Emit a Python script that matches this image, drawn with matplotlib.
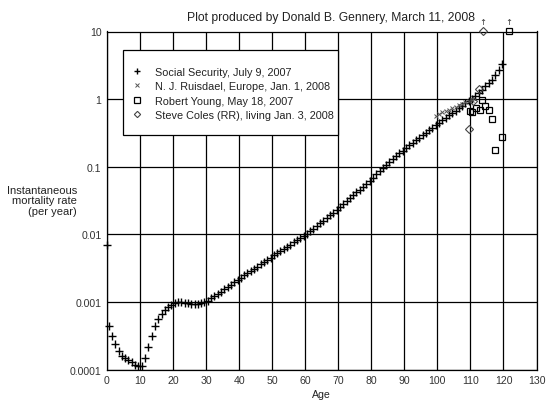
import numpy as np
import matplotlib
matplotlib.use('Agg')
import matplotlib.pyplot as plt
from matplotlib.patches import Rectangle

plt.rcParams['font.family'] = ['Liberation Sans', 'DejaVu Sans']

# Social Security, July 9, 2007 -- age 0 point, then mid-year ages 0.5 .. 119.5
ss_age = np.concatenate([[0.0], np.arange(0.5, 120.0, 1.0)])
ss_rate = [
    0.0069,
    0.00045, 0.00032, 0.00024, 0.00019, 0.00016, 0.00015, 0.00014, 0.00013, 0.000118, 0.000113,
    0.000113, 0.00015, 0.00022, 0.00032, 0.00044, 0.00056, 0.00066, 0.00077, 0.00084, 0.00091,
    0.00096, 0.00100, 0.00100, 0.00098, 0.00096, 0.00095, 0.00094, 0.00094, 0.00096, 0.00099,
    0.00105, 0.00113, 0.00122, 0.00132, 0.00143, 0.00155, 0.00167, 0.00181, 0.00196, 0.00212,
    0.00229, 0.00247, 0.00267, 0.00288, 0.00310, 0.00335, 0.00361, 0.00390, 0.00421, 0.00454,
    0.00490, 0.00527, 0.00568, 0.00611, 0.00658, 0.00708, 0.00762, 0.00820, 0.00883, 0.00951,
    0.0102, 0.0112, 0.0122, 0.0134, 0.0147, 0.0160, 0.0175, 0.0192, 0.0210, 0.0230,
    0.0251, 0.0278, 0.0308, 0.0340, 0.0377, 0.0417, 0.0461, 0.0511, 0.0565, 0.0625,
    0.0692, 0.0769, 0.0855, 0.0951, 0.106, 0.117, 0.131, 0.145, 0.158, 0.174,
    0.191, 0.207, 0.226, 0.246, 0.268, 0.292, 0.318, 0.346, 0.377, 0.410,
    0.447, 0.485, 0.527, 0.573, 0.622, 0.676, 0.734, 0.798, 0.867, 0.942,
    1.02, 1.10, 1.22, 1.38, 1.55, 1.72, 1.95, 2.30, 2.70, 3.30,
]

# N. J. Ruisdael, Europe, Jan. 1, 2008
nj_age = [99.5, 100.5, 101.5, 102.5, 103.5, 104.5, 105.5, 106.5, 107.5, 108.5, 109.5, 110.5]
nj_rate = [0.57, 0.60, 0.64, 0.67, 0.70, 0.73, 0.77, 0.81, 0.85, 0.90, 0.94, 0.98]

# Robert Young, May 18, 2007 (last point is off the top)
ry_age = [109.8, 110.4, 111.6, 112.8, 113.6, 114.5, 115.7, 116.6, 117.5, 119.6, 121.7]
ry_rate = [0.66, 0.64, 0.73, 0.68, 0.98, 0.80, 0.68, 0.51, 0.18, 0.28, 10.0]

# Steve Coles (RR), living Jan. 3, 2008 (last point is off the top)
sc_age = [109.7, 110.8, 112.5, 113.7]
sc_rate = [0.36, 0.95, 1.40, 10.0]

x_ticks = [0, 10, 20, 30, 40, 50, 60, 70, 80, 90, 100, 110, 120, 130]
y_ticks = [0.0001, 0.001, 0.01, 0.1, 1, 10]
y_tick_labels = ['0.0001', '0.001', '0.01', '0.1', '1', '10']

W, H = 548, 406
fig = plt.figure(figsize=(W / 100, H / 100), dpi=100)
ax = fig.add_axes([107 / W, 1 - 370.7 / H, (536.5 - 107) / W, (370.7 - 32.5) / H])

ax.set_yscale('log')
ax.set_xlim(0, 130)
ax.set_ylim(1e-4, 10)
ax.set_xticks(x_ticks)
ax.set_yticks(y_ticks)
ax.set_yticklabels(y_tick_labels)
ax.yaxis.set_minor_locator(matplotlib.ticker.NullLocator())
ax.tick_params(length=0, labelsize=7.6, labelcolor='#333333')
ax.tick_params(axis='y', pad=4)
ax.tick_params(axis='x', pad=4)
ax.grid(True, color='black', lw=0.9)
ax.set_axisbelow(True)
for sp in ax.spines.values():
    sp.set_linewidth(0.9)

ax.plot(ss_age, ss_rate, ls='none', marker='+', ms=6, mew=1.0, color='black',
        clip_on=False, label='Social Security, July 9, 2007', zorder=3)
ax.plot(nj_age, nj_rate, ls='none', marker='x', ms=3, mew=0.7, color='#555555',
        clip_on=False, label='N. J. Ruisdael, Europe, Jan. 1, 2008', zorder=4)
ax.plot(ry_age, ry_rate, ls='none', marker='s', ms=5, mew=0.9, mfc='none', color='black',
        clip_on=False, label='Robert Young, May 18, 2007', zorder=4)
ax.plot(sc_age, sc_rate, ls='none', marker='D', ms=4, mew=0.8, mfc='none', color='#444444',
        clip_on=False, label='Steve Coles (RR), living Jan. 3, 2008', zorder=4)

# little arrows over the points that are off the top
for a, r in list(zip(ry_age, ry_rate)) + list(zip(sc_age, sc_rate)):
    if r >= 10:
        ax.annotate('\u2191', xy=(a, r), xytext=(0, 4), textcoords='offset points',
                    ha='center', va='bottom', fontsize=6, color='#333333',
                    family='DejaVu Sans', annotation_clip=False)

# legend box
ax.add_patch(Rectangle((0.0373, 0.694), 0.5007, 0.252, transform=ax.transAxes,
                       facecolor='white', edgecolor='black', lw=0.9, zorder=5))
leg = ax.legend(loc='center left', bbox_to_anchor=(0.0575, 0.817), frameon=False,
                fontsize=7.8, borderpad=0, borderaxespad=0, handlelength=1.0,
                handletextpad=1.15, labelspacing=0.42, markerscale=0.8)
leg.set_zorder(6)
for t in leg.get_texts():
    t.set_color('#222222')

ax.set_xlabel('Age', fontsize=7.6, color='#222222', labelpad=3)
fig.text(77 / W, 1 - 201.5 / H, 'Instantaneous\nmortality rate\n(per year)',
         ha='right', va='center', multialignment='right', fontsize=8,
         color='#222222', linespacing=1.05)
fig.text(331 / W, 1 - 18 / H, 'Plot produced by Donald B. Gennery, March 11, 2008',
         ha='center', va='center', fontsize=8.7, color='#222222')

fig.savefig('out.png', dpi=100)
